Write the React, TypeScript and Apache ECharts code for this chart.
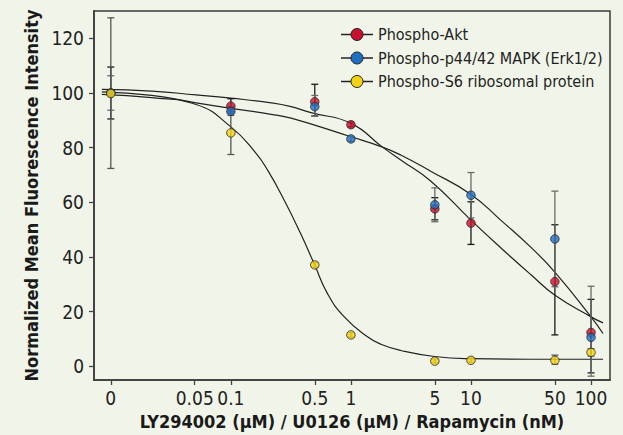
import React, { useEffect, useRef } from "react";
import * as echarts from "echarts";

// ---- data ----
const concentrations = [0, 0.1, 0.5, 1, 5, 10, 50, 100];
const aktValues = [100, 95.2, 96.8, 88.4, 57.6, 52.4, 31.0, 12.4];
const erkValues = [100, 93.3, 95.0, 83.2, 59.1, 62.6, 46.6, 10.6];
const s6Values = [99.8, 85.4, 37.1, 11.5, 1.9, 2.2, 2.2, 5.1];

const aktErr = [[90.5, 109.5], [92.6, 97.9], [91.6, 103.2], [87.6, 89.3], [53.6, 61.7], [44.6, 60.2], [11.5, 51.8], [-2.4, 24.5]];
const erkErr = [[93.7, 106.3], [91.8, 95.0], [91.5, 99.1], [82.3, 84.1], [52.9, 65.3], [54.3, 70.9], [29.1, 64.1], [-3.6, 29.3]];
const s6Err = [[72.4, 127.5], [77.5, 93.3], [36.2, 38.0], [10.7, 12.3], [1.2, 2.7], [1.5, 3.0], [0.8, 4.1], [3.8, 6.4]];

// fitted curves (x in log10 axis units)
const aktCurveX = [-2.075, -1.66, -1.29, -1.0, -0.664, -0.498, -0.332, 0, 0.263, 0.415, 0.664, 1.0, 1.245, 1.5, 1.7, 2.0, 2.1];
const aktCurveY = [101.3, 100.7, 99.3, 98.1, 96.4, 95.0, 92.8, 88.9, 80.2, 75.5, 67.8, 53.5, 43.5, 33.5, 26.0, 18.1, 15.9];
const erkCurveX = [-2.075, -1.66, -1.29, -1.0, -0.664, -0.498, 0, 0.263, 0.415, 0.664, 1.0, 1.245, 1.5, 1.7, 2.0, 2.1];
const erkCurveY = [100.4, 99.1, 96.4, 94.4, 92.2, 90.8, 84.0, 80.2, 77.3, 71.4, 62.9, 53.6, 43.5, 34.4, 18.1, 12.0];
const s6CurveX = [-2.075, -1.66, -1.29, -1.0, -0.8, -0.69, -0.55, -0.415, -0.305, -0.194, -0.055, 0.138, 0.249, 0.415, 0.697, 1.0, 1.5, 2.1];
const s6CurveY = [99.5, 98.3, 95.8, 87.6, 78.5, 71.5, 60.3, 48.2, 37.4, 26.5, 18.1, 10.8, 8.1, 5.8, 3.6, 2.8, 2.6, 2.6];

const xTickConcs = [0, 0.05, 0.1, 0.5, 1, 5, 10, 50, 100];
const xTickLabels = ["0", "0.05", "0.1", "0.5", "1", "5", "10", "50", "100"];
const yTicks = [0, 20, 40, 60, 80, 100, 120];

const seriesNames = ["Phospho-Akt", "Phospho-p44/42 MAPK (Erk1/2)", "Phospho-S6 ribosomal protein"];
const seriesColors = ["#c8102e", "#1f6fc0", "#f5d214"];
const errColors = ["#1a1a1a", "#6a6a6a", "#555555"];

const FONT = "'Liberation Sans Narrow', 'DejaVu Sans Condensed', 'Roboto Condensed', 'Liberation Sans', sans-serif";

const xPos = (c: number) => (c === 0 ? -2 : Math.log10(c));

export default function App() {
  const ref = useRef<HTMLDivElement>(null);
  useEffect(() => {
    if (!ref.current) return;
    const chart = echarts.init(ref.current, undefined, { renderer: "svg" });
    const values = [aktValues, erkValues, s6Values];
    const errs = [aktErr, erkErr, s6Err];
    const curves = [
      [aktCurveX, aktCurveY],
      [erkCurveX, erkCurveY],
      [s6CurveX, s6CurveY],
    ];
    const tickPos = xTickConcs.map(xPos);

    const series: any[] = [];
    curves.forEach(([cx, cy], i) => {
      series.push({
        type: "line",
        name: "fit" + i,
        data: cx.map((x, k) => [x, cy[k]]),
        smooth: 0.5,
        showSymbol: false,
        symbol: "none",
        lineStyle: { color: "#222", width: 1.2 },
        z: 2,
        silent: true,
      });
    });
    values.forEach((vals, i) => {
      series.push({
        type: "scatter",
        name: seriesNames[i],
        data: concentrations.map((c, k) => [xPos(c), vals[k]]),
        symbol: "circle",
        symbolSize: 8.5,
        itemStyle: { color: seriesColors[i], borderColor: "#2a2a2a", borderWidth: 1 },
        z: 4 + i,
      });
    });
    errs.forEach((err, i) => {
      series.push({
        type: "custom",
        name: "err" + i,
        data: concentrations.map((c, k) => [xPos(c), values[i][k], err[k][0], err[k][1]]),
        z: 3,
        silent: true,
        renderItem: (params: any, api: any) => {
          const x = api.value(0);
          const v = api.coord([x, api.value(1)]);
          const lo = api.coord([x, api.value(2)]);
          const hi = api.coord([x, api.value(3)]);
          const hw = 3.5;
          const st = { stroke: errColors[i], lineWidth: 1.3 };
          return {
            type: "group",
            children: [
              { type: "line", shape: { x1: v[0], y1: hi[1], x2: v[0], y2: lo[1] }, style: st },
              { type: "line", shape: { x1: v[0] - hw, y1: hi[1], x2: v[0] + hw, y2: hi[1] }, style: st },
              { type: "line", shape: { x1: v[0] - hw, y1: lo[1], x2: v[0] + hw, y2: lo[1] }, style: st },
            ],
          };
        },
      });
    });

    const legendYs = [34.5, 58, 81.5];
    const graphic: any[] = [];
    seriesNames.forEach((n, i) => {
      const y = legendYs[i];
      graphic.push({ type: "line", shape: { x1: 341, y1: y, x2: 373, y2: y }, style: { stroke: "#222", lineWidth: 1.5 }, z: 10 });
      graphic.push({ type: "circle", shape: { cx: 357, cy: y, r: 6 }, style: { fill: seriesColors[i], stroke: "#222", lineWidth: 1 }, z: 11 });
      graphic.push({
        type: "text",
        x: 378,
        y: y,
        style: { text: n, fill: "#222", font: `16px ${FONT}`, verticalAlign: "middle", align: "left" },
        z: 11,
      });
    });

    chart.setOption({
      animation: false,
      backgroundColor: "#f1f5e9",
      textStyle: { fontFamily: FONT },
      grid: { left: 94, top: 11, right: 13, bottom: 51, show: true, borderColor: "#3a3a3a", borderWidth: 1.5, backgroundColor: "transparent" },
      xAxis: {
        type: "value",
        min: -2.14,
        max: 2.158,
        name: "LY294002 (µM) / U0126 (µM) / Rapamycin (nM)",
        nameLocation: "middle",
        nameGap: 32,
        nameTextStyle: { fontFamily: FONT, fontSize: 18, fontWeight: "bold", color: "#1a1a1a" },
        axisLine: { show: true, onZero: false, lineStyle: { color: "#444", width: 2 } },
        axisTick: { show: true, length: 5, customValues: tickPos, lineStyle: { color: "#444", width: 1.3 } },
        axisLabel: {
          customValues: tickPos,
          margin: 8,
          fontFamily: FONT,
          fontSize: 19,
          color: "#222",
          formatter: (val: number) => {
            let best = 0;
            let bd = Infinity;
            tickPos.forEach((p, k) => {
              const d = Math.abs(p - val);
              if (d < bd) { bd = d; best = k; }
            });
            return xTickLabels[best];
          },
        },
        splitLine: { show: false },
      },
      yAxis: {
        type: "value",
        min: -5,
        max: 130,
        name: "Normalized Mean Fluorescence Intensity",
        nameLocation: "middle",
        nameGap: 43,
        nameTextStyle: { fontFamily: FONT, fontSize: 18, fontWeight: "bold", color: "#1a1a1a" },
        axisLine: { show: true, onZero: false, lineStyle: { color: "#444", width: 2 } },
        axisTick: { show: true, length: 5, customValues: yTicks, lineStyle: { color: "#444", width: 1.3 } },
        axisLabel: { customValues: yTicks, margin: 10, fontFamily: FONT, fontSize: 19, color: "#222" },
        splitLine: { show: false },
      },
      series,
      graphic,
    });
    return () => chart.dispose();
  }, []);
  return <div ref={ref} style={{ position: "fixed", left: 0, top: 0, width: 623, height: 435 }} />;
}
